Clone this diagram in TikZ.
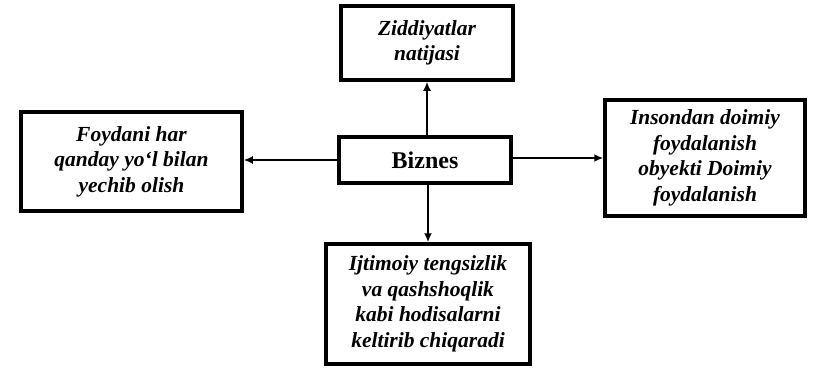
\documentclass[tikz,border=0pt]{standalone}
\usepackage{fontspec}
\setmainfont{Liberation Serif}
\usetikzlibrary{arrows.meta}
\begin{document}
\begin{tikzpicture}[x=1pt,y=-1pt,
  box/.style={draw=black, line width=3.5pt, fill=white, inner sep=0pt, align=center,
    font=\fontsize{21.5}{25.5}\selectfont\bfseries\itshape},
  conn/.style={line width=2pt, -{Latex[length=9pt,width=8pt]}}]
\useasboundingbox (0,0) rectangle (815,372);
\node[box, minimum width=172pt, minimum height=74pt] (top) at (427,43) {Ziddiyatlar\\natijasi};
\node[box, minimum width=221pt, minimum height=99pt] (left) at (131.5,161.5) {Foydani har\\qanday yo‘l bilan\\yechib olish};
\node[box, minimum width=172pt, minimum height=46pt, font=\fontsize{24}{28}\selectfont\bfseries] (biz) at (425,160) {Biznes};
\node[box, minimum width=200pt, minimum height=116pt] (right) at (705,158) {Insondan doimiy\\foydalanish\\obyekti Doimiy\\foydalanish};
\node[box, minimum width=204pt, minimum height=120pt] (bot) at (428,304) {Ijtimoiy tengsizlik\\va qashshoqlik\\kabi hodisalarni\\keltirib chiqaradi};
\draw[conn] (biz.north -| top.south) -- (top.south);
\draw[conn] (biz.south -| bot.north) -- (bot.north);
\draw[conn] (biz.west) -- (biz.west -| left.east);
\draw[conn] (biz.east |- right.west) -- (right.west);
\end{tikzpicture}
\end{document}
